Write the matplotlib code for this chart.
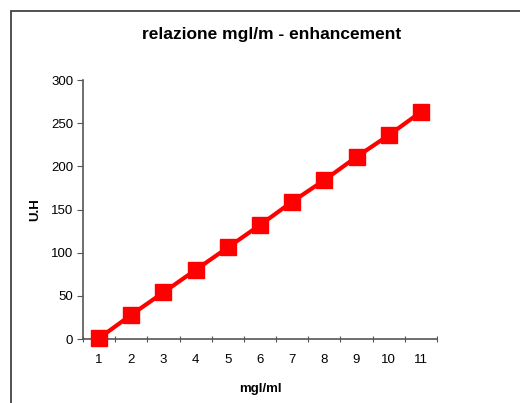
import matplotlib
matplotlib.use("Agg")
import matplotlib.pyplot as plt
from matplotlib.patches import Rectangle

categories = ["1", "2", "3", "4", "5", "6", "7", "8", "9", "10", "11"]
values = [1, 28, 54, 80, 106, 132, 159, 184, 211, 236, 263]
yticks = [0, 50, 100, 150, 200, 250, 300]

plt.rcParams['font.family'] = ['Liberation Sans', 'DejaVu Sans']

W, H = 520, 403
fig = plt.figure(figsize=(W/100, H/100), dpi=100)
fig.patch.set_facecolor('white')

# outer frame
fig.add_artist(Rectangle((11/W, -0.1), 1.2, (H-11)/H + 0.1, transform=fig.transFigure,
                         fill=False, edgecolor='#333333', lw=1.2))

l, r, b, t = 83/W, 437/W, (H-339)/H, (H-80)/H
ax = fig.add_axes([l, b, r-l, t-b])

x = list(range(1, len(categories)+1))
ax.plot(x, values, color='#ff0000', lw=3, marker='s', markersize=11,
        markeredgecolor='#ff0000', markerfacecolor='#ff0000', clip_on=False, zorder=3)

ax.set_xlim(0.5, len(categories)+0.5)
ax.set_ylim(0, 300)
ax.set_yticks(yticks)
ax.set_yticklabels([str(v) for v in yticks], fontsize=9.5)
ax.set_xticks([i + 0.5 for i in range(0, len(categories)+1)])
ax.set_xticklabels([])
ax.set_xticks(x, minor=True)
ax.set_xticklabels(categories, minor=True, fontsize=9.5)
ax.tick_params(axis='x', which='minor', length=0, pad=11)
ax.tick_params(axis='x', which='major', length=5, direction='inout', color='#555555')
ax.tick_params(axis='y', length=4, direction='out', color='#555555', pad=3)

for s in ['top', 'right']:
    ax.spines[s].set_visible(False)
for s in ['left', 'bottom']:
    ax.spines[s].set_color('#555555')
    ax.spines[s].set_linewidth(1.2)

ax.set_ylabel("U.H", fontsize=9.5, fontweight='bold', labelpad=7)
ax.set_xlabel("mgl/ml", fontsize=9.5, fontweight='bold', labelpad=12)
fig.text(272/W, 1 - 35/H, "relazione mgl/m - enhancement", ha='center', va='center',
         fontsize=12.5, fontweight='bold')

fig.savefig("out.png", dpi=100, facecolor='white')
